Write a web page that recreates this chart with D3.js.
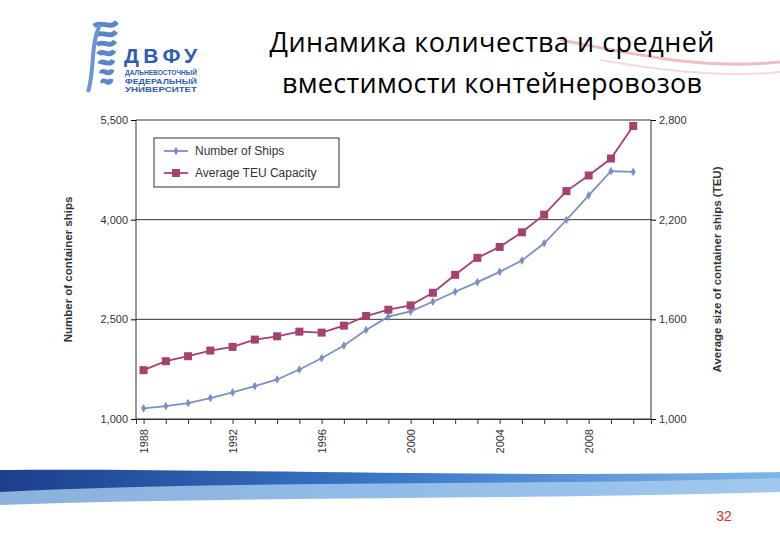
<!DOCTYPE html><html><head><meta charset="utf-8"><script src="https://cdn.jsdelivr.net/npm/d3@7"></script>
<style>body{margin:0;background:#fff}text{font-family:Arial,"Liberation Sans",sans-serif}</style></head><body><svg id="c" width="780" height="540"></svg><script>
const years=[1988,1989,1990,1991,1992,1993,1994,1995,1996,1997,1998,1999,2000,2001,2002,2003,2004,2005,2006,2007,2008,2009,2010];
const ships=[1160,1195,1240,1315,1400,1495,1595,1745,1915,2105,2340,2540,2620,2765,2915,3060,3215,3385,3645,3995,4365,4730,4720];
const teu=[1294,1348,1378,1412,1434,1478,1498,1526,1520,1562,1620,1658,1684,1760,1868,1970,2036,2124,2230,2372,2466,2568,2764];
const leftTicks=[1000,2500,4000,5500], rightTicks=[1000,1600,2200,2800], xTicks=[1988,1992,1996,2000,2004,2008];
const svg=d3.select("#c");
const defs=svg.append("defs");
const g1=defs.append("linearGradient").attr("id","bg").attr("x1",0).attr("x2",1);
g1.append("stop").attr("offset",0).attr("stop-color","#1d3f8c");g1.append("stop").attr("offset",0.5).attr("stop-color","#3a78c8");g1.append("stop").attr("offset",1).attr("stop-color","#7fb5e6");
svg.append("path").attr("d","M0,470 C200,468 500,478 780,472 L780,540 L0,540Z").attr("fill","url(#bg)");
svg.append("path").attr("d","M0,492 C250,480 520,486 780,478 L780,540 L0,540Z").attr("fill","#a9cdf0").attr("opacity",0.8);
svg.append("path").attr("d","M0,505 C250,496 520,500 780,492 L780,540 L0,540Z").attr("fill","#fff");
svg.append("text").attr("x",724).attr("y",521).attr("text-anchor","middle").attr("fill","#e0302a").attr("font-size",14).text("32");
svg.append("path").attr("d","M560,40 C640,55 700,70 780,62").attr("stroke","#e08080").attr("stroke-width",3).attr("fill","none").attr("opacity",0.5);
svg.append("path").attr("d","M600,60 C660,70 720,78 780,72").attr("stroke","#e8a0a0").attr("stroke-width",2).attr("fill","none").attr("opacity",0.4);
const lg=svg.append("g");
for(let i=0;i<7;i++){lg.append("path").attr("d",`M${94+i*1.5},${26+i*9.5} C${102},${20+i*9.5} ${110},${30+i*9.5} ${117-i},${22+i*9.5}`).attr("stroke","#3e6fc0").attr("stroke-width",5).attr("fill","none").attr("opacity",0.85);}
lg.append("path").attr("d","M100,25 C90,45 95,70 88,92").attr("stroke","#6b95d6").attr("stroke-width",4).attr("fill","none");
lg.append("text").attr("x",124).attr("y",63).attr("font-size",21).attr("font-weight","bold").attr("fill","#2f5db0").attr("textLength",73).text("ДВФУ");
["ДАЛЬНЕВОСТОЧНЫЙ","ФЕДЕРАЛЬНЫЙ","УНИВЕРСИТЕТ"].forEach((t,i)=>lg.append("text").attr("x",125).attr("y",75+i*8.5).attr("font-size",6.5).attr("font-weight","bold").attr("fill","#2f5db0").attr("textLength",72).attr("lengthAdjust","spacingAndGlyphs").text(t));
svg.append("text").attr("x",492).attr("y",52).attr("text-anchor","middle").attr("font-size",27).attr("fill","#000").style("font-family","'Open Sans',sans-serif").attr("textLength",445).text("Динамика количества и средней");
svg.append("text").attr("x",492).attr("y",93).attr("text-anchor","middle").attr("font-size",27).attr("fill","#000").style("font-family","'Open Sans',sans-serif").attr("textLength",420).text("вместимости контейнеровозов");
const L=136,R=651,T=120,B=419;
const x=d3.scaleLinear().domain([1987.66,2010.8]).range([L,R]);
const yl=d3.scaleLinear().domain([1000,5500]).range([B,T]);
const yr=d3.scaleLinear().domain([1000,2800]).range([B,T]);
const grid=svg.append("g");
leftTicks.forEach(v=>grid.append("line").attr("x1",L).attr("x2",R).attr("y1",yl(v)).attr("y2",yl(v)).attr("stroke","#333").attr("stroke-width",1));
svg.append("line").attr("x1",L).attr("x2",L).attr("y1",T).attr("y2",B).attr("stroke","#333");
svg.append("line").attr("x1",R).attr("x2",R).attr("y1",T).attr("y2",B).attr("stroke","#333");
const ax=svg.append("g").attr("transform",`translate(0,${B})`).call(d3.axisBottom(x).tickValues(d3.range(1988,2011)).tickSize(5).tickFormat(""));
ax.select(".domain").attr("stroke","#333");ax.selectAll("line").attr("stroke","#333");
xTicks.forEach(v=>svg.append("text").attr("transform",`translate(${x(v)+4},${B+10}) rotate(-90)`).attr("text-anchor","end").attr("font-size",11).attr("fill","#333").text(v));
const la=svg.append("g").attr("transform",`translate(${L},0)`).call(d3.axisLeft(yl).tickValues(leftTicks).tickSize(5).tickFormat(d3.format(",")));
la.select(".domain").remove();la.selectAll("text").attr("font-size",11).attr("fill","#333").style("font-family","Arial");
const ra=svg.append("g").attr("transform",`translate(${R},0)`).call(d3.axisRight(yr).tickValues(rightTicks).tickSize(5).tickFormat(d3.format(",")));
ra.select(".domain").remove();ra.selectAll("text").attr("font-size",11).attr("fill","#333").style("font-family","Arial");
svg.append("text").attr("transform",`translate(72,${(T+B)/2}) rotate(-90)`).attr("text-anchor","middle").attr("font-size",11.5).attr("font-weight","bold").attr("fill","#333").text("Number of container ships");
svg.append("text").attr("transform",`translate(721,${(T+B)/2}) rotate(-90)`).attr("text-anchor","middle").attr("font-size",11.5).attr("font-weight","bold").attr("fill","#333").text("Average size of container ships (TEU)");
const cS="#7b8fc4",cT="#a6426f";
svg.append("path").datum(years).attr("d",d3.line().x(d=>x(d)).y((d,i)=>yl(ships[i]))).attr("fill","none").attr("stroke",cS).attr("stroke-width",1.8);
svg.append("path").datum(years).attr("d",d3.line().x(d=>x(d)).y((d,i)=>yr(teu[i]))).attr("fill","none").attr("stroke",cT).attr("stroke-width",1.8);
svg.selectAll(".dm").data(years).enter().append("path").attr("transform",(d,i)=>`translate(${x(d)},${yl(ships[i])})`).attr("d",d3.symbol(d3.symbolDiamond,22)).attr("fill",cS);
svg.selectAll(".sq").data(years).enter().append("rect").attr("x",d=>x(d)-4).attr("y",(d,i)=>yr(teu[i])-4).attr("width",8).attr("height",8).attr("fill",cT);
const lgd=svg.append("g");
lgd.append("rect").attr("x",154).attr("y",138).attr("width",185).attr("height",49).attr("fill","#fff").attr("stroke","#333");
lgd.append("line").attr("x1",164).attr("x2",188).attr("y1",151).attr("y2",151).attr("stroke",cS).attr("stroke-width",1.8);
lgd.append("path").attr("transform","translate(176,151)").attr("d",d3.symbol(d3.symbolDiamond,22)).attr("fill",cS);
lgd.append("line").attr("x1",164).attr("x2",188).attr("y1",173).attr("y2",173).attr("stroke",cT).attr("stroke-width",1.8);
lgd.append("rect").attr("x",172).attr("y",169).attr("width",8).attr("height",8).attr("fill",cT);
lgd.append("text").attr("x",195).attr("y",155).attr("font-size",12).attr("fill","#333").text("Number of Ships");
lgd.append("text").attr("x",195).attr("y",177).attr("font-size",12).attr("fill","#333").text("Average TEU Capacity");
</script></body></html>
